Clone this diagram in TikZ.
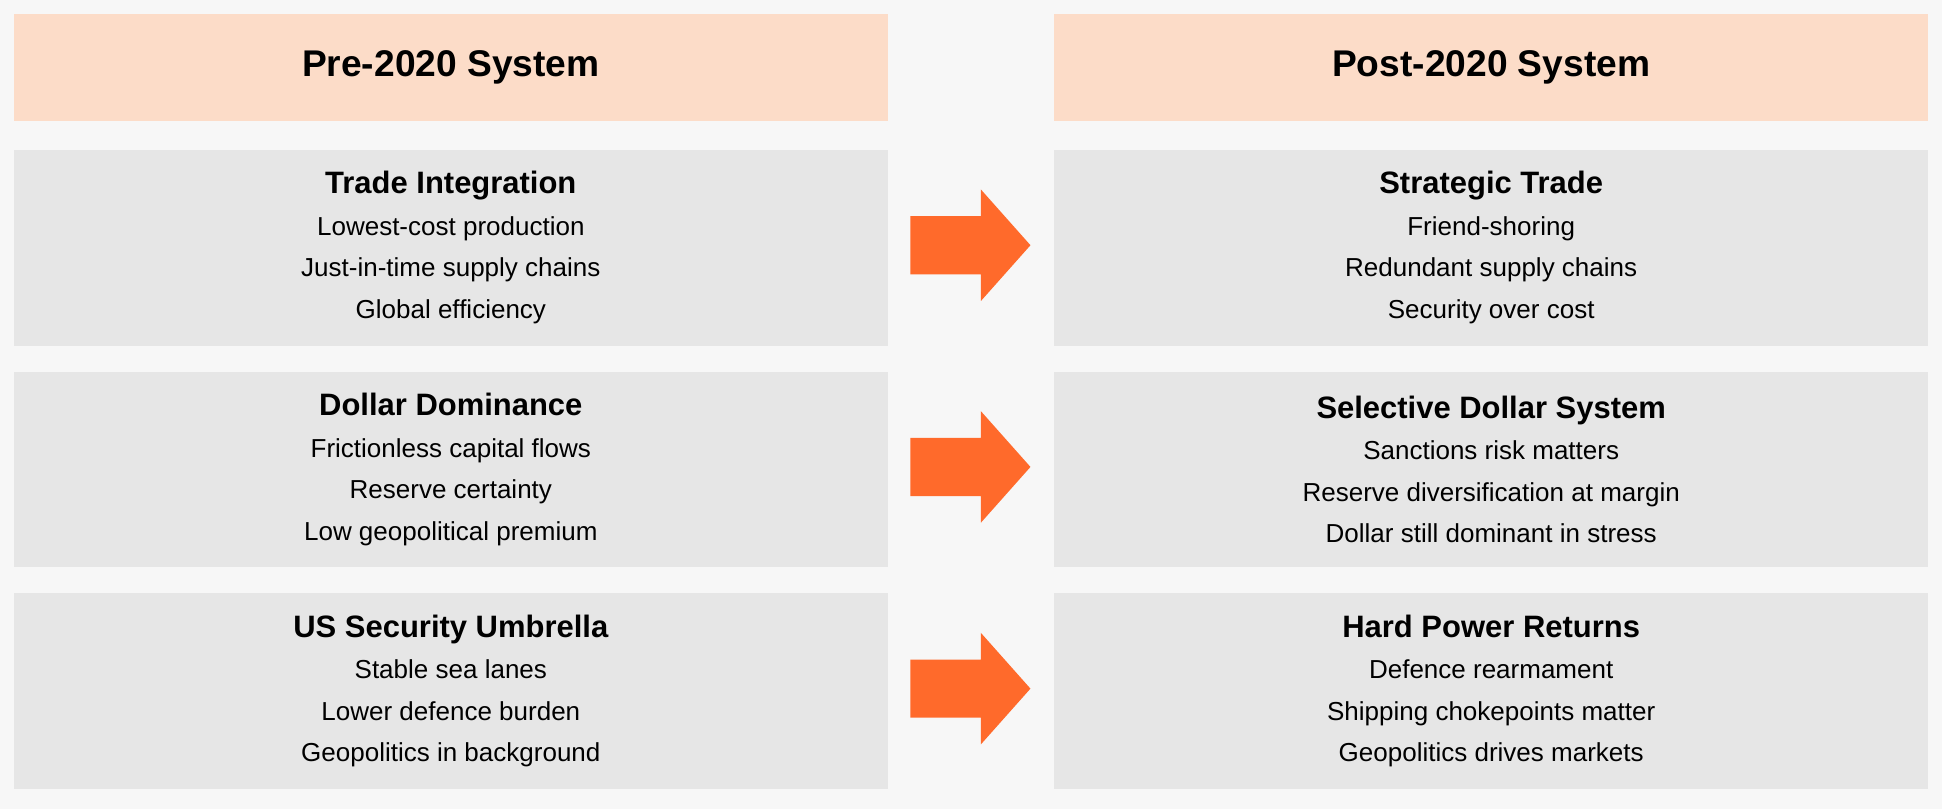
\documentclass[tikz,border=0pt]{standalone}
\usepackage{fontspec}
\setmainfont{Liberation Sans}
\definecolor{hdr}{HTML}{FCDCC8}
\definecolor{cell}{HTML}{E6E6E6}
\definecolor{arr}{HTML}{FF6A2B}
\begin{document}
\begin{tikzpicture}[x=1pt,y=-1pt,
  head/.style={fill=hdr,draw=none,minimum width=706pt,minimum height=87pt,font=\fontsize{30}{34}\selectfont\bfseries},
  box/.style={fill=cell,draw=none,minimum width=706pt,minimum height=158pt,align=center,font=\fontsize{21}{33.5}\selectfont},
  arrow/.style={fill=arr,draw=none}]
\fill[white!97!black] (0,0) rectangle (1568,653);
\useasboundingbox (0,0) rectangle (1568,653);
\node[head] (h1) at (364,54.5) {Pre-2020 System};
\node[head] (h2) at (1204,54.5) {Post-2020 System};
\newcommand{\tl}[1]{{\fontsize{25}{33.5}\selectfont\bfseries #1}}
\node[box] (l1) at (364,200) {\tl{Trade Integration}\\Lowest-cost production\\Just-in-time supply chains\\Global efficiency};
\node[box] (r1) at (1204,200) {\tl{Strategic Trade}\\Friend-shoring\\Redundant supply chains\\Security over cost};
\node[box] (l2) at (364,379) {\tl{Dollar Dominance}\\Frictionless capital flows\\Reserve certainty\\Low geopolitical premium};
\node[box] (r2) at (1204,379) {\tl{Selective Dollar System}\\Sanctions risk matters\\Reserve diversification at margin\\Dollar still dominant in stress};
\node[box] (l3) at (364,558) {\tl{US Security Umbrella}\\Stable sea lanes\\Lower defence burden\\Geopolitics in background};
\node[box] (r3) at (1204,558) {\tl{Hard Power Returns}\\Defence rearmament\\Shipping chokepoints matter\\Geopolitics drives markets};
\foreach \i/\y in {1/198,2/377,3/556}{
  \fill[arrow] (735,\y-23.5) -- (792,\y-23.5) -- (792,\y-45) -- (832,\y) -- (792,\y+45) -- (792,\y+23.5) -- (735,\y+23.5) -- cycle;
}
\end{tikzpicture}
\end{document}
